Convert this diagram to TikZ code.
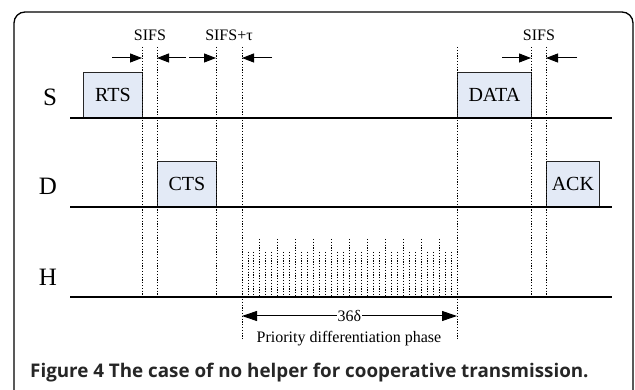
\documentclass[tikz,border=0pt]{standalone}
\usepackage{fontspec}
\setmainfont{Liberation Serif}
\newfontfamily\capfont{Open Sans}
\usetikzlibrary{arrows.meta}
\definecolor{framebox}{HTML}{E3EAF6}
\tikzset{
    frame/.style={draw=black!85,thick,fill=framebox,anchor=south west,minimum height=45pt,inner sep=0pt,font=\fontsize{20}{20}\selectfont},
    guide/.style={draw,line width=1pt,dash pattern=on 1.3pt off 1.5pt},
    axis/.style={draw,line width=1.2pt},
    gap/.style={draw,line width=1pt,-{Triangle[length=12pt,width=9pt]}}
}
\begin{document}
    \begin{tikzpicture}[x=1pt,y=-1pt]
        \useasboundingbox (0,0) rectangle (635,390);
        \draw[line width=1.3pt,rounded corners=11pt] (14,396) -- (14,12) -- (633,12) -- (633,396);
        % stations
        \begin{scope}[every node/.style={font=\fontsize{25}{25}\selectfont}]
            \node (s) at (50,97) {S};
            \node (d) at (48,186) {D};
            \node (h) at (48,277) {H};
        \end{scope}
        \coordinate (s0) at (70,118); \coordinate (s1) at (612,118);
        \coordinate (d0) at (70,207); \coordinate (d1) at (612,207);
        \coordinate (h0) at (70,297); \coordinate (h1) at (612,297);
        % frames
        \node (rts) [frame,minimum width=59pt] at (83,118) {RTS};
        \node (cts) [frame,minimum width=59pt] at (157,207) {CTS};
        \node (data) [frame,minimum width=74pt] at (457,118) {DATA};
        \node (ack) [frame,minimum width=53pt] at (546,207) {ACK};
        \path[axis] (s0) -- (s1) (d0) -- (d1) (h0) -- (h1);
        % guides
        \foreach \x/\name/\y in {142/ga/297,157/gb/297,216/gc/297,242/gd/340,457/ge/340,531/gf/297,546/gg/297} {
            \coordinate (\name top) at (\x,47);
            \coordinate (\name bot) at (\x,\y);
        }
        \begin{scope}[every edge/.style={guide}]
            \path
                (gatop) edge (gabot)
                (gbtop) edge (gbbot)
                (gctop) edge (gcbot)
                (gdtop) edge (gdbot)
                (getop) edge (gebot)
                (gftop) edge (gfbot)
                (ggtop) edge (ggbot);
        \end{scope}
        % priority slots
        \foreach \i in {1,...,35} {
            \pgfmathsetmacro{\xx}{242+\i*215/36}
            \pgfmathsetmacro{\yy}{mod(\i,3)==0 ? 239 : 252}
            \draw[guide,line width=0.9pt] (\xx,\yy) -- (\xx,297);
        }
        % interval marks
        \begin{scope}[every node/.style={font=\fontsize{16}{16}\selectfont}]
            \node (sifsa) at (150,35) {SIFS};
            \node (sifsb) at (229,35) {SIFS+τ};
            \node (sifsc) at (539,35) {SIFS};
        \end{scope}
        \coordinate (aa) at (112,58); \coordinate (ab) at (142,58);
        \coordinate (ac) at (186,58); \coordinate (ad) at (157,58);
        \coordinate (ae) at (189,58); \coordinate (af) at (216,58);
        \coordinate (ag) at (272,58); \coordinate (ah) at (242,58);
        \coordinate (ai) at (502,58); \coordinate (aj) at (531,58);
        \coordinate (ak) at (577,58); \coordinate (al) at (546,58);
        \begin{scope}[every edge/.style={gap}]
            \path
                (aa) edge (ab)
                (ac) edge (ad)
                (ae) edge (af)
                (ag) edge (ah)
                (ai) edge (aj)
                (ak) edge (al);
        \end{scope}
        % phase
        \coordinate (pa) at (242,316);
        \coordinate (pb) at (457,316);
        \draw[line width=1pt,{Triangle[length=15pt,width=10pt]}-{Triangle[length=15pt,width=10pt]}] (pa) -- node (len) [fill=white,inner sep=1pt,font=\fontsize{16}{16}\selectfont] {36δ} (pb);
        \node (phase) [font=\fontsize{16}{16}\selectfont] at (349,339) {Priority differentiation phase};
        \node (cap) [anchor=west,inner sep=0pt,font=\capfont\bfseries\fontsize{18.8}{19}\selectfont,text=black!85] at (30,373) {Figure 4 The case of no helper for cooperative transmission.};
    \end{tikzpicture}
\end{document}
